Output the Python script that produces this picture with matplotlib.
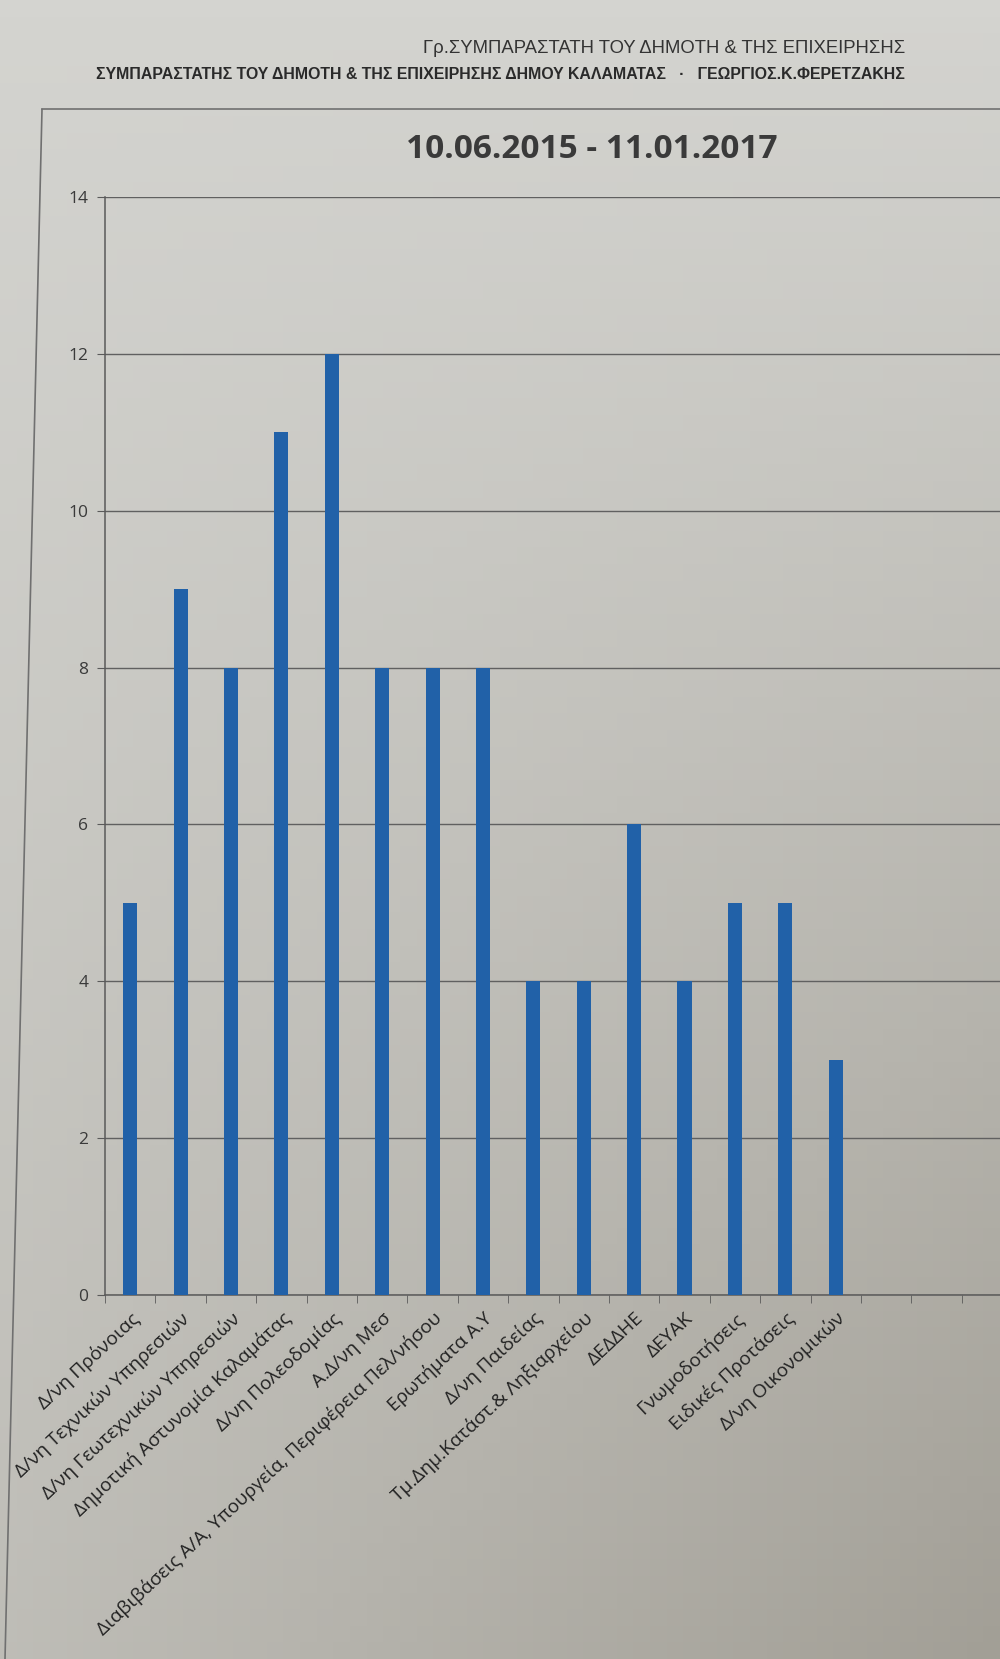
import matplotlib.pyplot as plt
import numpy as np
from matplotlib import font_manager

# chart data
categories = ["Δ/νη Πρόνοιας", "Δ/νη Τεχνικών Υπηρεσιών", "Δ/νη Γεωτεχνικών Υπηρεσιών",
              "Δημοτική Αστυνομία Καλαμάτας", "Δ/νη Πολεοδομίας", "Α.Δ/νη Μεσ",
              "Διαβιβάσεις Α/Α, Υπουργεία, Περιφέρεια Πελ/νήσου", "Ερωτήματα Α.Υ",
              "Δ/νη Παιδείας", "Τμ.Δημ.Κατάστ.& Ληξιαρχείου", "ΔΕΔΔΗΕ", "ΔΕΥΑΚ",
              "Γνωμοδοτήσεις", "Ειδικές Προτάσεις", "Δ/νη Οικονομικών"]
counts = [5, 9, 8, 11, 12, 8, 8, 8, 4, 4, 6, 4, 5, 5, 3]
yticks = [0, 2, 4, 6, 8, 10, 12, 14]

header1 = "Γρ.ΣΥΜΠΑΡΑΣΤΑΤΗ ΤΟΥ ΔΗΜΟΤΗ & ΤΗΣ ΕΠΙΧΕΙΡΗΣΗΣ"
header2 = "ΣΥΜΠΑΡΑΣΤΑΤΗΣ ΤΟΥ ΔΗΜΟΤΗ & ΤΗΣ ΕΠΙΧΕΙΡΗΣΗΣ ΔΗΜΟΥ ΚΑΛΑΜΑΤΑΣ   ·   ΓΕΩΡΓΙΟΣ.Κ.ΦΕΡΕΤΖΑΚΗΣ"
title = "10.06.2015 - 11.01.2017"

names = {f.name for f in font_manager.fontManager.ttflist}
narrow = "Liberation Sans Narrow" if "Liberation Sans Narrow" in names else "Liberation Sans"
plt.rcParams['font.family'] = ['Open Sans', 'DejaVu Sans']

fig = plt.figure(figsize=(10, 16.59), dpi=100)

# paper background, a bit darker towards the bottom right
bg = fig.add_axes([0, 0, 1, 1], zorder=-5)
gx, gy = np.meshgrid(np.linspace(0, 1, 60), np.linspace(0, 1, 100))
dark = 0.35 * gy + 0.45 * gx * gy
top = np.array([212, 212, 208]) / 255
low = np.array([150, 146, 136]) / 255
img = top[None, None, :] * (1 - dark[..., None]) + low[None, None, :] * dark[..., None]
bg.imshow(img, aspect='auto', extent=[0, 1, 1, 0])
bg.set_xlim(0, 1)
bg.set_ylim(1, 0)
bg.axis('off')

# outer chart frame
bg.plot([0.042, 1.0], [0.066, 0.066], color='#707070', lw=1.2)
bg.plot([0.042, 0.005], [0.066, 1.0], color='#707070', lw=1.2)

fig.text(0.905, 0.971, header1, ha='right', va='center', fontsize=13.3,
         family=[narrow, 'DejaVu Sans'], color='#333333')
fig.text(0.905, 0.955, header2, ha='right', va='center', fontsize=11.4,
         family=[narrow, 'DejaVu Sans'], fontweight='bold', color='#2a2a2a')
fig.text(0.592, 0.910, title, ha='center', va='center', fontsize=24,
         fontweight='bold', color='#3a3a3a')

ax = fig.add_axes([0.105, 0.2194, 0.895, 0.6619])
ax.patch.set_alpha(0)
x = np.arange(len(categories))
ax.bar(x, counts, width=0.28, color='#2161a8', zorder=3)

ax.set_ylim(0, 14)
ax.set_xlim(-0.5, 17.26)
ax.set_yticks(yticks)
ax.yaxis.grid(True, color='#606060', lw=1.0)
ax.set_axisbelow(True)
for s in ['top', 'right']:
    ax.spines[s].set_visible(False)
ax.spines['left'].set_color('#5a5a5a')
ax.spines['bottom'].set_color('#5a5a5a')
ax.spines['left'].set_linewidth(1.1)
ax.spines['bottom'].set_linewidth(1.1)
ax.tick_params(axis='y', labelsize=12.5, labelcolor='#3a3a3a', color='#5a5a5a',
               length=6, pad=6)

ax.set_xticks(x)
ax.set_xticklabels(categories, rotation=43, ha='right', rotation_mode='anchor',
                   fontsize=13.8, color='#222222')
ax.tick_params(axis='x', length=0, pad=10)
ax.set_xticks(np.arange(-0.5, 17.5, 1), minor=True)
ax.tick_params(axis='x', which='minor', length=6, color='#5a5a5a')

fig.savefig("out.png", dpi=100)
